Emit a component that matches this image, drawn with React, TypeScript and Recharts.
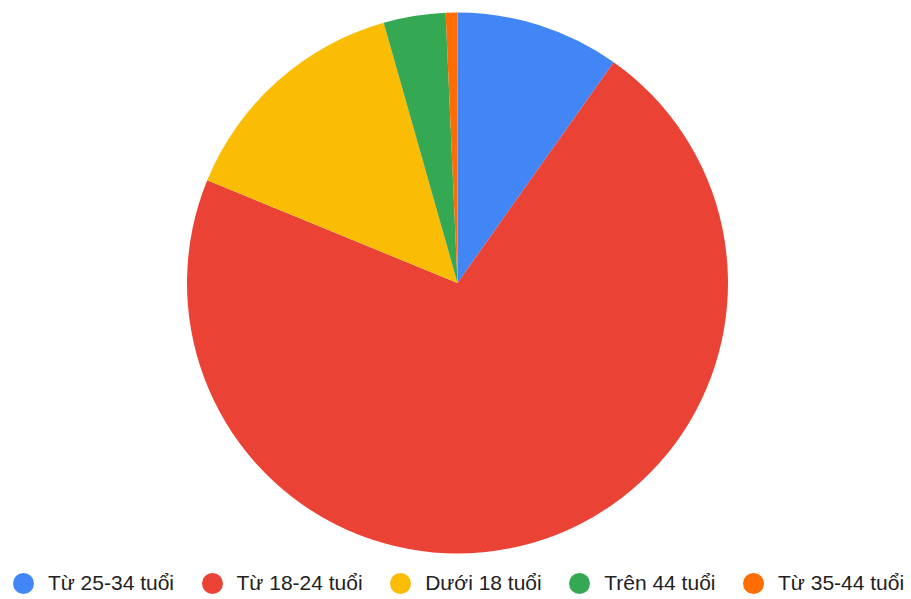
import { PieChart, Pie, Cell, Legend } from 'recharts';

// Age groups, in the order the slices are drawn (clockwise from 12 o'clock)
const labels = ['Từ 25-34 tuổi', 'Từ 18-24 tuổi', 'Dưới 18 tuổi', 'Trên 44 tuổi', 'Từ 35-44 tuổi'];
const shares = [9.8, 71.4, 14.4, 3.7, 0.7];
const colors = ['#4285F4', '#EA4335', '#FBBC04', '#34A853', '#FF6D01'];

const data = labels.map((name, i) => ({ name, value: shares[i] }));

// keep the legend in slice order (recharts would sort it by name)
const LegendRow = () => (
    <div
        style={{
            display: 'flex',
            justifyContent: 'center',
            alignItems: 'center',
            fontFamily: '"Liberation Sans", Arial, sans-serif',
            fontSize: 21,
            color: '#222',
        }}
    >
        {labels.map((label, i) => (
            <div key={label} style={{ display: 'flex', alignItems: 'center', marginLeft: i === 0 ? 0 : 27.5 }}>
                <span
                    style={{
                        width: 21,
                        height: 21,
                        borderRadius: '50%',
                        background: colors[i],
                        display: 'inline-block',
                        marginRight: 14,
                    }}
                />
                <span>{label}</span>
            </div>
        ))}
    </div>
);

export default function App() {
    return (
        <div style={{ position: 'absolute', left: 0, top: 0, background: '#fff' }}>
            <PieChart width={911} height={599} margin={{ top: 0, right: 0, bottom: 0, left: 0 }}>
                <Pie
                    data={data}
                    dataKey="value"
                    nameKey="name"
                    cx={457.5}
                    cy={283}
                    outerRadius={270.5}
                    startAngle={90}
                    endAngle={-270}
                    stroke="none"
                    isAnimationActive={false}
                >
                    {data.map((d, i) => (
                        <Cell key={d.name} fill={colors[i]} />
                    ))}
                </Pie>
                <Legend
                    content={<LegendRow />}
                    layout="horizontal"
                    verticalAlign="bottom"
                    wrapperStyle={{ left: 3, width: 911, bottom: 4 }}
                />
            </PieChart>
        </div>
    );
}
